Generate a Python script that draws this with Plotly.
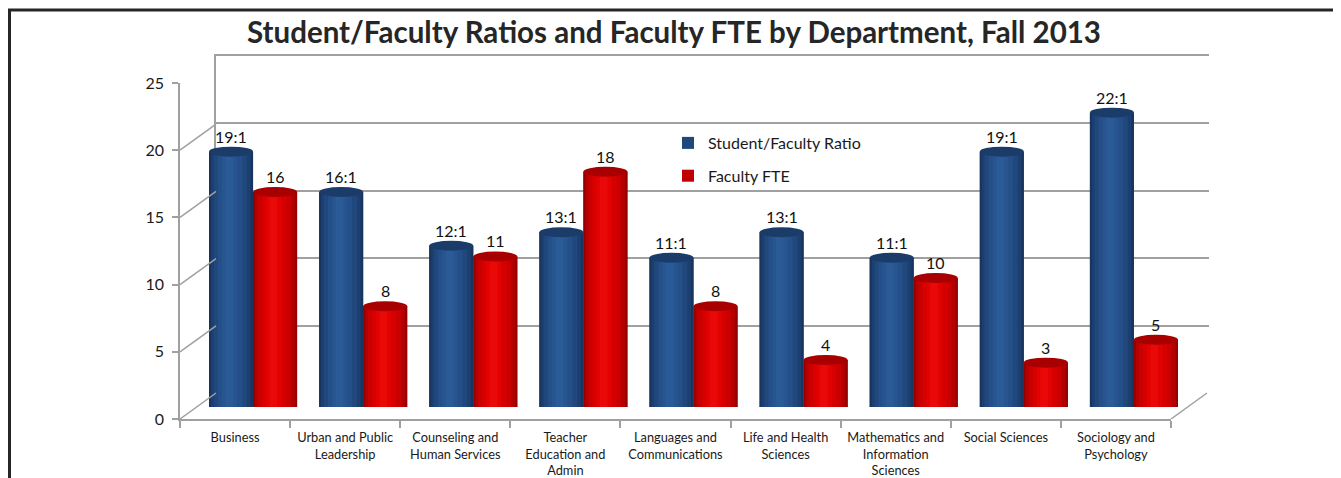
import plotly.graph_objects as go

# ---------------- data ----------------
categories = ["Business", "Urban and Public<br>Leadership", "Counseling and<br>Human Services",
              "Teacher<br>Education and<br>Admin", "Languages and<br>Communications",
              "Life and Health<br>Sciences", "Mathematics and<br>Information<br>Sciences",
              "Social Sciences", "Sociology and<br>Psychology"]
ratio_values = [19.0, 16.0, 12.0, 13.0, 11.1, 13.0, 11.1, 19.0, 21.9]
ratio_labels = ["19:1", "16:1", "12:1", "13:1", "11:1", "13:1", "11:1", "19:1", "22:1"]
fte_values = [16.0, 7.5, 11.2, 17.5, 7.5, 3.5, 9.6, 3.3, 5.0]
fte_labels = ["16", "8", "11", "18", "8", "4", "10", "3", "5"]
y_ticks = [0, 5, 10, 15, 20, 25]

W, H = 1341, 478
FONT = "Lato"
OFF = 8  # page body margin offset in the browser


def px_x(p):
    return (p - OFF) / W


def px_y(p):
    return 1 - (p - OFF) / H


n = len(categories)
xs = list(range(n))

fig = go.Figure()

fig.add_trace(go.Scatter(x=categories, y=[0] * n, mode="none", showlegend=False,
                         hoverinfo="skip", xaxis="x", yaxis="y"))
fig.add_trace(go.Scatter(x=[0, 1], y=[0, 25], mode="none", showlegend=False,
                         hoverinfo="skip", xaxis="x2", yaxis="y2"))

# shading layers for the cylinder look: (colour, width, shift)
WIDTHS = [0.40, 0.36, 0.30, 0.22, 0.14, 0.07]
SHIFTS = [0.0, -0.002, -0.006, -0.010, -0.014, -0.016]
series = [
    dict(name="Student/Faculty Ratio", vals=ratio_values, labels=ratio_labels, center=-0.2,
         colors=["#17355f", "#1c3f6f", "#20487d", "#244f88", "#275590", "#2b5b97"],
         top="#1b3c69", legend="#1f497d"),
    dict(name="Faculty FTE", vals=fte_values, labels=fte_labels, center=0.2,
         colors=["#960000", "#b30000", "#c80000", "#d60000", "#e20202", "#ea0909"],
         top="#a80000", legend="#c00000"),
]

for s in series:
    for k, (col, w, sh) in enumerate(zip(s["colors"], WIDTHS, SHIFTS)):
        fig.add_trace(go.Bar(
            x=xs, y=s["vals"], width=w, offset=s["center"] - w / 2 + sh,
            marker=dict(color=col if k > 0 else s["legend"], line=dict(width=0)),
            name=s["name"], legendgroup=s["name"], showlegend=(k == 0),
            xaxis="x3", yaxis="y3", hoverinfo="skip"))
        if k == 0:
            # redraw darkest edge colour over legend-coloured base
            fig.add_trace(go.Bar(
                x=xs, y=s["vals"], width=w, offset=s["center"] - w / 2,
                marker=dict(color=col, line=dict(width=0)), showlegend=False,
                xaxis="x3", yaxis="y3", hoverinfo="skip"))

fig.update_layout(barmode="overlay")

shapes = []
annotations = []
HALF_W = 22
for s in series:
    for i, v in enumerate(s["vals"]):
        xc = xs[i] + s["center"]
        shapes.append(dict(type="circle", xref="x3", yref="y3", xsizemode="pixel",
                           ysizemode="pixel", xanchor=xc, yanchor=0, x0=-HALF_W, x1=HALF_W,
                           y0=-5, y1=5, fillcolor=s["colors"][2], line=dict(width=0),
                           layer="between"))
        shapes.append(dict(type="circle", xref="x3", yref="y3", xsizemode="pixel",
                           ysizemode="pixel", xanchor=xc, yanchor=v, x0=-HALF_W, x1=HALF_W,
                           y0=-5, y1=5, fillcolor=s["top"], line=dict(width=0)))
        annotations.append(dict(x=xc, y=v, xref="x3", yref="y3", text=s["labels"][i],
                                showarrow=False, yanchor="bottom", yshift=4,
                                font=dict(family=FONT, size=16, color="#111111")))

DX, DY = 36, 26
for t in y_ticks:
    shapes.append(dict(type="line", xref="x domain", yref="y", xsizemode="pixel",
                       ysizemode="pixel", xanchor=0, yanchor=t, x0=0, x1=DX, y0=0, y1=DY,
                       line=dict(color="#a0a0a0", width=1.5)))
shapes.append(dict(type="line", xref="x domain", yref="y", xsizemode="pixel",
                   ysizemode="pixel", xanchor=1, yanchor=0, x0=0, x1=DX, y0=0, y1=DY,
                   line=dict(color="#a0a0a0", width=1.5)))
shapes.append(dict(type="rect", xref="paper", yref="paper", x0=px_x(9.5), x1=1.05,
                   y0=-0.1, y1=px_y(10), line=dict(color="#262626", width=3)))

front_x = [px_x(180), px_x(1171)]
front_y = [px_y(419), px_y(83)]
back_x = [px_x(216), px_x(1209)]
back_y = [px_y(393), px_y(56)]
bar_x = [px_x(198), px_x(1189)]
bar_y = [px_y(407), px_y(71)]

fig.update_layout(
    width=W, height=H,
    margin=dict(l=0, r=0, t=0, b=0, pad=0, autoexpand=False),
    paper_bgcolor="white", plot_bgcolor="rgba(0,0,0,0)",
    font=dict(family=FONT, color="#1a1a1a"),
    title=dict(text="<b>Student/Faculty Ratios and Faculty FTE by Department, Fall 2013</b>",
               x=px_x(674), xanchor="center", y=px_y(33), yanchor="middle",
               xref="paper", yref="container", automargin=False,
               font=dict(family=FONT, size=29.5, color="#262626")),
    xaxis=dict(domain=front_x, type="category", categoryarray=categories,
               categoryorder="array", range=[-0.5, n - 0.5], showgrid=False,
               showline=True, linecolor="#a0a0a0", linewidth=1.5, ticks="outside",
               tickson="boundaries", ticklen=7, tickcolor="#a0a0a0", tickwidth=1.5,
               tickfont=dict(family=FONT, size=12.8, color="#1a1a1a"), anchor="y",
               zeroline=False, automargin=False, ticklabelstandoff=6),
    yaxis=dict(domain=front_y, range=[0, 25], tickvals=y_ticks, showgrid=False,
               showline=True, linecolor="#a0a0a0", linewidth=1.5, ticks="outside",
               ticklen=6, tickcolor="#a0a0a0", tickwidth=1.5, zeroline=False,
               tickfont=dict(family=FONT, size=16, color="#1a1a1a"), anchor="x",
               automargin=False, ticklabelstandoff=5),
    xaxis2=dict(domain=back_x, range=[0, 1], showline=True, linecolor="#a0a0a0",
                linewidth=1.5, side="top", showticklabels=False, showgrid=False,
                zeroline=False, ticks="", anchor="y2", automargin=False),
    yaxis2=dict(domain=back_y, range=[0, 25], tickvals=y_ticks, showgrid=True,
                gridcolor="#a0a0a0", gridwidth=1.5, showline=True, linecolor="#a0a0a0",
                linewidth=1.5, showticklabels=False, zeroline=False, anchor="x2",
                automargin=False),
    xaxis3=dict(domain=bar_x, range=[-0.5, n - 0.5], visible=False, anchor="y3",
                automargin=False),
    yaxis3=dict(domain=bar_y, range=[0, 25], visible=False, anchor="x3", automargin=False),
    legend=dict(x=px_x(668), y=px_y(126), xanchor="left", yanchor="top",
                bgcolor="rgba(0,0,0,0)", font=dict(family=FONT, size=16, color="#1a1a1a"),
                traceorder="grouped", tracegroupgap=9, itemwidth=30),
    shapes=shapes,
    annotations=annotations,
    showlegend=True,
)

fig.write_html("out.html")
